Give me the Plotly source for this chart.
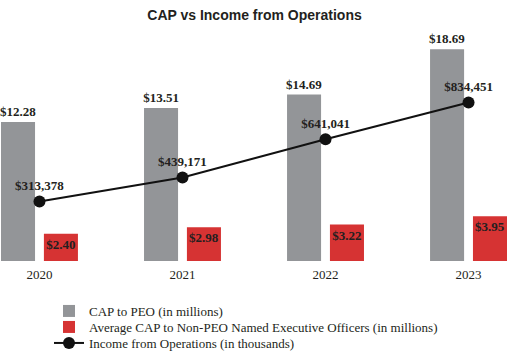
import plotly.graph_objects as go

years = [2020, 2021, 2022, 2023]
year_labels = ["2020", "2021", "2022", "2023"]
cap_peo = [12.28, 13.51, 14.69, 18.69]
cap_neo = [2.40, 2.98, 3.22, 3.95]
income_ops = [313378, 439171, 641041, 834451]

GRAY = "#939598"
RED = "#d63333"
DARK = "#231f20"
SERIF = "Liberation Serif, Times New Roman, serif"
SANS = "Liberation Sans, Arial, sans-serif"

fig = go.Figure()
fig.add_trace(go.Bar(
    x=years, y=cap_peo, name="CAP to PEO (in millions)",
    marker=dict(color=GRAY, line=dict(width=0)),
    width=0.238, offset=-0.269,
    text=[f"${v:.2f}" for v in cap_peo], textposition="outside", textangle=0,
    textfont=dict(family=SERIF, size=13, color=DARK, weight="bold"),
    cliponaxis=False, constraintext="none", legend="legend",
))
fig.add_trace(go.Bar(
    x=years, y=cap_neo, name="Average CAP to Non-PEO Named Executive Officers (in millions)",
    marker=dict(color=RED, line=dict(width=0)),
    width=0.238, offset=0.031,
    text=[f"${v:.2f}" for v in cap_neo], textposition="inside", textangle=0,
    insidetextanchor="end",
    textfont=dict(family=SERIF, size=13, color=DARK, weight="bold"),
    cliponaxis=False, constraintext="none", legend="legend2",
))
fig.add_trace(go.Scatter(
    x=years, y=income_ops, name="Income from Operations (in thousands)",
    yaxis="y2", mode="lines+markers+text",
    line=dict(color="#111111", width=2),
    marker=dict(color="#111111", size=12),
    text=[f"${v:,}" for v in income_ops], textposition="top center",
    textfont=dict(family=SERIF, size=13, color=DARK, weight="bold"),
    cliponaxis=False, legend="legend3",
))

def leg(row_y):
    return dict(orientation="v", x=49 / 509, xanchor="left",
                yref="container", y=1 - row_y / 351, yanchor="middle",
                font=dict(family=SERIF, size=13, color=DARK),
                bgcolor="rgba(0,0,0,0)", borderwidth=0)

fig.update_layout(
    width=509, height=351,
    margin=dict(l=0, r=0, t=35, b=90),
    paper_bgcolor="white", plot_bgcolor="white",
    barmode="overlay",
    title=dict(text="CAP vs Income from Operations", x=0.5, xanchor="center",
               y=1 - 15 / 351, yanchor="middle",
               font=dict(family=SANS, size=14, color=DARK, weight="bold")),
    xaxis=dict(range=[2019.724, 2023.283], tickvals=years, ticktext=year_labels,
               showgrid=False, zeroline=False, showline=False,
               ticks="outside", ticklen=1, tickcolor="white",
               tickfont=dict(family=SERIF, size=13, color=DARK)),
    yaxis=dict(range=[0, 19.95], visible=False, showgrid=False, zeroline=False),
    yaxis2=dict(range=[0, 1190000], overlaying="y", visible=False,
                showgrid=False, zeroline=False),
    showlegend=True,
    legend=leg(311),
    legend2=leg(327),
    legend3=leg(343),
)

fig.write_html("out.html")
